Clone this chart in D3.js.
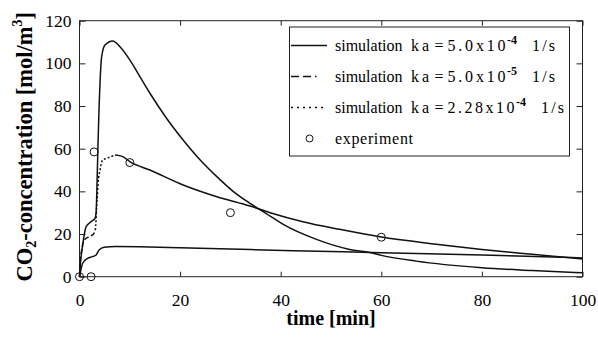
<!DOCTYPE html>
<html>
<head>
<meta charset="utf-8">
<script src="https://cdn.jsdelivr.net/npm/d3@7"></script>
<style>
  body { margin: 0; background: #fff; }
</style>
</head>
<body>
<div id="chart"></div>
<script>
// time [min] / concentration [mol/m3]
const highTime = [0, 0.2, 0.5, 1.3, 2.3, 3.1, 3.3, 3.5, 3.7, 3.9, 4.1, 4.4, 5.07, 6.6, 8.05, 10, 12, 14, 17.3, 20.6, 24, 27.3, 30.6, 33.9, 37.2, 40.5, 47.1, 53.7, 57.7, 60, 66.9, 80, 90, 100];
const highConc = [0, 7, 12.5, 23.4, 25.8, 27.4, 30, 45, 64, 80, 92, 103, 108.6, 110.5, 107.8, 101.6, 93.8, 86, 74.3, 64.1, 54.7, 46.9, 39.9, 34.4, 29.5, 24.5, 17.5, 12.8, 11.3, 10, 7.3, 4.2, 2.9, 1.8];

const midTime = [0, 0.2, 0.5, 0.95, 1.95, 2.75, 3.15, 3.3, 3.4, 3.55, 3.7, 4.08, 4.6, 5.4, 7.06, 8.6, 10, 14, 20.6, 27.3, 33.9, 37.9, 44.4, 51.7, 60, 70, 80, 90, 100];
const midConc = [0, 8, 13.5, 17.2, 18.8, 19.9, 21.9, 27, 32.8, 38, 43.8, 50, 54.7, 55.5, 57, 56.3, 53.9, 50, 43, 37.5, 33.1, 30, 25.8, 22.2, 18.6, 15.5, 12.8, 10.5, 8.3];

const lowTime = [0, 0.3, 0.6, 1.6, 2.6, 3.3, 3.9, 4.9, 7.2, 12, 20, 34, 50, 60, 80, 100];
const lowConc = [0, 3.5, 6.2, 8.6, 9.4, 10.2, 12.5, 13.8, 14.1, 14, 13.6, 12.7, 11.8, 11.2, 10.2, 8.8];

const expTime = [0, 2.3, 2.9, 10, 30, 60];
const expConc = [0, 0, 58.5, 53.5, 30, 18.5];

const xTicks = [0, 20, 40, 60, 80, 100];
const yTicks = [0, 20, 40, 60, 80, 100, 120];

const legendMantissa = ['5.0x10', '5.0x10', '2.28x10'];
const legendExponent = ['-4', '-5', '-4'];

const serif = '"Liberation Serif", "Times New Roman", Times, serif';
const width = 598, height = 337;
const plotLeft = 79.5, plotRight = 582.5, plotTop = 20.7, plotBottom = 276.7;

const svg = d3.select('#chart').append('svg')
    .attr('width', width)
    .attr('height', height)
    .attr('font-family', serif)
    .style('display', 'block');

const x = d3.scaleLinear().domain([0, 100]).range([plotLeft, plotRight]);
const y = d3.scaleLinear().domain([0, 120]).range([plotBottom, plotTop]);

function styleAxis(g) {
    g.attr('font-family', serif).attr('font-size', 17.5);
    g.select('.domain').remove();
    g.selectAll('.tick line').attr('stroke', '#222');
    g.selectAll('.tick text').attr('fill', '#000');
}

// Axes with inward ticks
svg.append('g')
    .attr('transform', `translate(0,${plotBottom})`)
    .call(d3.axisBottom(x).tickValues(xTicks).tickSize(-5).tickSizeOuter(0).tickPadding(17))
    .call(styleAxis);

svg.append('g')
    .attr('transform', `translate(0,${plotTop})`)
    .call(d3.axisTop(x).tickValues(xTicks).tickSize(-5).tickSizeOuter(0).tickFormat(''))
    .call(styleAxis);

svg.append('g')
    .attr('transform', `translate(${plotLeft},0)`)
    .call(d3.axisLeft(y).tickValues(yTicks).tickSize(-6).tickSizeOuter(0).tickPadding(8))
    .call(styleAxis);

svg.append('g')
    .attr('transform', `translate(${plotRight},0)`)
    .call(d3.axisRight(y).tickValues(yTicks).tickSize(-6).tickSizeOuter(0).tickFormat(''))
    .call(styleAxis);

// Frame
svg.append('rect')
    .attr('x', plotLeft).attr('y', plotTop)
    .attr('width', plotRight - plotLeft).attr('height', plotBottom - plotTop)
    .attr('fill', 'none')
    .attr('stroke', '#222')
    .attr('stroke-width', 1);

// Curves
const line = d3.line()
    .x(d => x(d[0]))
    .y(d => y(d[1]))
    .curve(d3.curveMonotoneX);

function drawPart(times, concs, from, to, dash) {
    const pts = times.map((t, i) => [t, concs[i]]).filter(d => d[0] >= from && d[0] <= to);
    svg.append('path')
        .datum(pts)
        .attr('d', line)
        .attr('fill', 'none')
        .attr('stroke', '#111')
        .attr('stroke-width', 1.5)
        .attr('stroke-dasharray', dash);
}

drawPart(lowTime, lowConc, 0, 100, null);
drawPart(midTime, midConc, 0, 3.15, '5,2.5');
drawPart(midTime, midConc, 3.15, 7.06, '2,2');
drawPart(midTime, midConc, 7.06, 100, null);
drawPart(highTime, highConc, 0, 100, null);

// Experiment points
svg.append('g')
    .selectAll('circle')
    .data(expTime.map((t, i) => [t, expConc[i]]))
    .join('circle')
    .attr('cx', d => x(d[0]))
    .attr('cy', d => y(d[1]))
    .attr('r', 4)
    .attr('fill', 'none')
    .attr('stroke', '#111')
    .attr('stroke-width', 1);

// Legend
const legend = svg.append('g').attr('font-size', 16);
legend.append('rect')
    .attr('x', 289.5).attr('y', 27)
    .attr('width', 280).attr('height', 129)
    .attr('fill', '#fff')
    .attr('stroke', '#222')
    .attr('stroke-width', 1);

const rowY = [45.5, 76.5, 107.5, 138.5];
const sampleDash = [null, '8,4,8,4,1.5,40', '2,4'];

// text piece at a fixed x, optionally spread (letter spacing only) to a given width
function piece(sel, txt, px, w, opts = {}) {
    const t = sel.append('text')
        .attr('x', px)
        .attr('y', opts.y)
        .attr('font-size', opts.size || null)
        .attr('font-weight', opts.bold ? 'bold' : null)
        .text(txt);
    if (w) t.attr('textLength', w).attr('lengthAdjust', 'spacing');
    return t;
}

legendMantissa.forEach((mant, i) => {
    const ry = rowY[i];
    const base = ry + 5;
    legend.append('line')
        .attr('x1', 291).attr('x2', 327)
        .attr('y1', ry).attr('y2', ry)
        .attr('stroke', '#111')
        .attr('stroke-width', 1.5)
        .attr('stroke-dasharray', sampleDash[i]);
    const numW = mant.length === 6 ? 58 : 67;
    piece(legend, 'simulation', 335, null, { y: base });
    piece(legend, 'k', 411, null, { y: base });
    piece(legend, 'a', 422, null, { y: base });
    piece(legend, '=', 434.5, null, { y: base });
    piece(legend, mant, 447.5, numW, { y: base });
    piece(legend, legendExponent[i], 449 + numW, null, { y: base - 7, size: 12, bold: true });
    piece(legend, '1/s', 474 + numW, 23, { y: base });
});

legend.append('circle')
    .attr('cx', 309.5).attr('cy', rowY[3])
    .attr('r', 3.5)
    .attr('fill', 'none')
    .attr('stroke', '#111');
piece(legend, 'experiment', 335, 78, { y: rowY[3] + 5 });

// Axis titles
svg.append('text')
    .attr('x', (plotLeft + plotRight) / 2)
    .attr('y', 324.5)
    .attr('text-anchor', 'middle')
    .attr('font-size', 20)
    .attr('font-weight', 'bold')
    .text('time [min]');

const yTitle = svg.append('text')
    .attr('transform', `translate(32,${(plotTop + plotBottom) / 2 - 2}) rotate(-90)`)
    .attr('text-anchor', 'middle')
    .attr('font-size', 22.5)
    .attr('font-weight', 'bold');
yTitle.append('tspan').text('CO');
yTitle.append('tspan').attr('font-size', 14).attr('dy', 4).text('2');
yTitle.append('tspan').attr('dy', -4).text('-concentration [mol/m');
yTitle.append('tspan').attr('font-size', 14).attr('dy', -10).text('3');
yTitle.append('tspan').attr('dy', 10).text(']');
</script>
</body>
</html>
